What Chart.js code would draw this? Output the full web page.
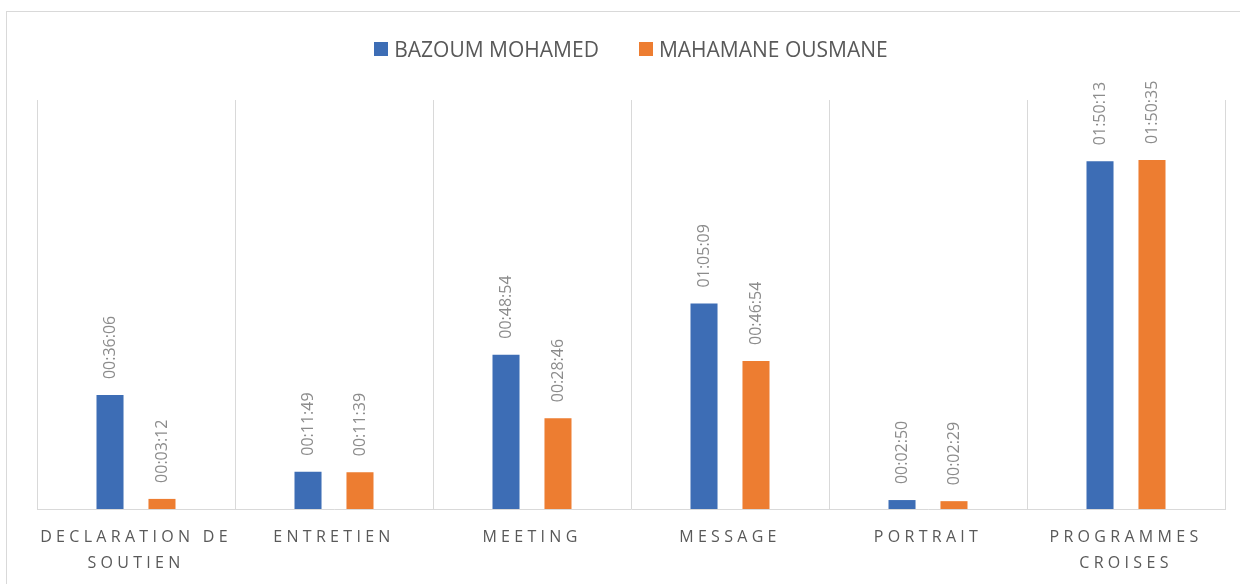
<!DOCTYPE html>
<html lang="fr">
<head>
  <meta charset="UTF-8">
  <title>Temps d'antenne par genre</title>
  <style>
    html, body {
      margin: 0;
      padding: 0;
      background: #fff;
      overflow: hidden;
    }
    #wrap {
      position: relative;
      width: 1240px;
      height: 584px;
      font-family: "Open Sans", sans-serif;
    }
    #frame {
      position: absolute;
      left: 6px;
      top: 11px;
      width: 1400px;
      height: 800px;
      border: 1px solid #d9d9d9;
    }
    #legend {
      position: absolute;
      left: 37px;
      top: 38px;
      width: 1188px;
      height: 22px;
      display: flex;
      justify-content: center;
      gap: 40px;
      font-size: 21px;
      line-height: 22px;
      color: #595959;
    }
    .item {
      display: flex;
      align-items: center;
      white-space: nowrap;
    }
    .swatch {
      width: 14px;
      height: 14px;
      margin-right: 6px;
    }
    #chart {
      position: absolute;
      left: 0;
      top: 0;
    }
  </style>
</head>
<body>
  <div id="wrap">
    <div id="frame"></div>
    <canvas id="chart" width="1240" height="584"></canvas>
    <div id="legend"></div>
  </div>

  <script src="https://cdn.jsdelivr.net/npm/chart.js"></script>
  <script>
    const categories = [
      ['DECLARATION DE', 'SOUTIEN'],
      'ENTRETIEN',
      'MEETING',
      'MESSAGE',
      'PORTRAIT',
      ['PROGRAMMES', 'CROISES']
    ];
    const seriesNames = ['BAZOUM MOHAMED', 'MAHAMANE OUSMANE'];
    const bazoum = ['00:36:06', '00:11:49', '00:48:54', '01:05:09', '00:02:50', '01:50:13'];
    const mahamane = ['00:03:12', '00:11:39', '00:28:46', '00:46:54', '00:02:29', '01:50:35'];
    const colors = ['#3d6db5', '#ed7d31'];
    // time axis tops out at 0.09 day
    const yMax = 0.09 * 86400;

    function toSeconds(t) {
      const p = t.split(':').map(Number);
      return p[0] * 3600 + p[1] * 60 + p[2];
    }

    function pad(n) {
      return String(n).padStart(2, '0');
    }

    function toClock(s) {
      return pad(Math.floor(s / 3600)) + ':' + pad(Math.floor(s % 3600 / 60)) + ':' + pad(s % 60);
    }

    // rotated duration labels above each bar, then letter spacing for the x ticks drawn next
    const barLabels = {
      id: 'barLabels',
      afterDatasetsDraw(chart) {
        const ctx = chart.ctx;
        ctx.save();
        ctx.font = '16px "Open Sans", sans-serif';
        ctx.fillStyle = '#8c8c8c';
        ctx.textAlign = 'left';
        ctx.textBaseline = 'middle';
        chart.data.datasets.forEach((ds, i) => {
          chart.getDatasetMeta(i).data.forEach((bar, j) => {
            ctx.save();
            ctx.translate(bar.x, bar.y - 16);
            ctx.rotate(-Math.PI / 2);
            ctx.fillText(toClock(ds.data[j]), 0, 0);
            ctx.restore();
          });
        });
        ctx.restore();
        ctx.letterSpacing = '4.3px';
      },
      afterDraw(chart) {
        chart.ctx.letterSpacing = '0px';
      }
    };

    const chart = new Chart(document.getElementById('chart'), {
      type: 'bar',
      data: {
        labels: categories,
        datasets: [
          { label: seriesNames[0], data: bazoum.map(toSeconds), backgroundColor: colors[0] },
          { label: seriesNames[1], data: mahamane.map(toSeconds), backgroundColor: colors[1] }
        ]
      },
      options: {
        responsive: false,
        animation: false,
        categoryPercentage: 0.525,
        barPercentage: 0.52,
        layout: {
          padding: { left: 37, right: 15, top: 100, bottom: -7 }
        },
        plugins: {
          legend: { display: false },
          tooltip: { enabled: false }
        },
        scales: {
          x: {
            grid: {
              color: '#d9d9d9',
              drawTicks: false
            },
            border: { color: '#d9d9d9' },
            ticks: {
              z: 1,
              padding: 15,
              color: '#595959',
              maxRotation: 0,
              autoSkip: false,
              font: { family: '"Open Sans", sans-serif', size: 16, lineHeight: 1.625 }
            }
          },
          y: {
            display: false,
            min: 0,
            max: yMax
          }
        }
      },
      plugins: [barLabels]
    });

    // legend built from the datasets
    const legend = document.getElementById('legend');
    chart.data.datasets.forEach(ds => {
      const item = document.createElement('div');
      item.className = 'item';
      const sw = document.createElement('span');
      sw.className = 'swatch';
      sw.style.background = ds.backgroundColor;
      item.appendChild(sw);
      item.appendChild(document.createTextNode(ds.label));
      legend.appendChild(item);
    });
  </script>
</body>
</html>
